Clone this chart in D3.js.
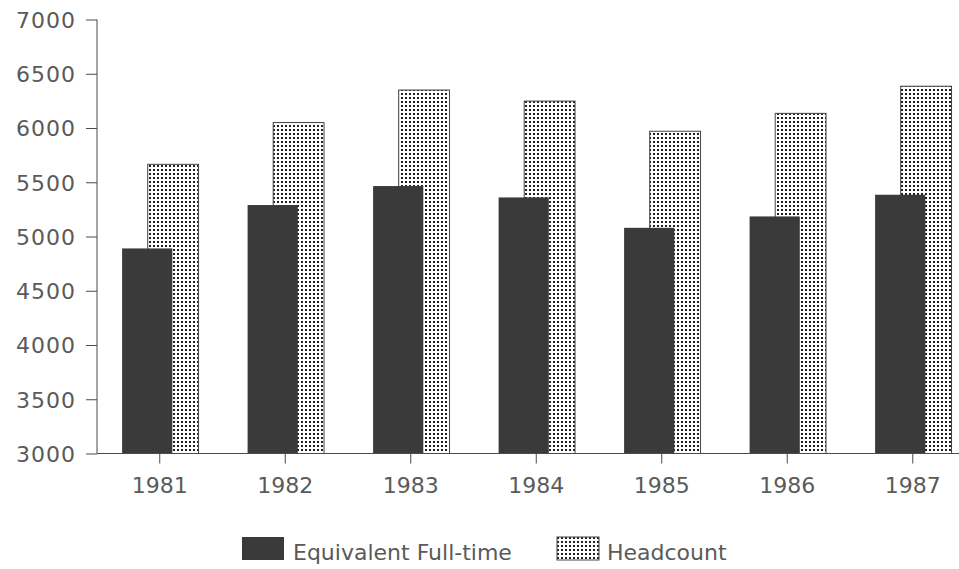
<!DOCTYPE html>
<html>
<head>
<meta charset="utf-8">
<script src="https://cdn.jsdelivr.net/npm/d3@7"></script>
<style>
  html, body { margin: 0; padding: 0; background: #fff; }
  svg { display: block; }
  text { font-family: "DejaVu Sans", sans-serif; fill: #5a5a5a; }
</style>
</head>
<body>
<svg id="chart" width="959" height="569"></svg>
<script>
const years = ["1981", "1982", "1983", "1984", "1985", "1986", "1987"];
const fullTime = [4890, 5290, 5465, 5360, 5080, 5185, 5385];
const headcount = [5665, 6050, 6350, 6248, 5970, 6135, 6385];
const yTicks = [3000, 3500, 4000, 4500, 5000, 5500, 6000, 6500, 7000];
const seriesNames = ["Equivalent Full-time", "Headcount"];

const svg = d3.select("#chart");
const axisColor = "#4a4a4a";
const darkFill = "#3a3a3a";

const x = d3.scaleBand().domain(years).range([97, 975.5]).paddingInner(0).paddingOuter(0);
const y = d3.scaleLinear().domain([3000, 7000]).range([453.5, 19.5]);

// dot pattern
const defs = svg.append("defs");
const pat = defs.append("pattern")
  .attr("id", "dots").attr("patternUnits", "userSpaceOnUse")
  .attr("width", 4).attr("height", 4);
pat.append("rect").attr("width", 4).attr("height", 4).attr("fill", "#fff");
pat.append("rect").attr("x", 1).attr("y", 1).attr("width", 2).attr("height", 2).attr("fill", "#222");

const bw = x.bandwidth();
const data = years.map((yr, i) => ({ yr, ft: fullTime[i], hc: headcount[i] }));

// headcount bars (behind)
svg.append("g").selectAll("rect").data(data).join("rect")
  .attr("x", d => x(d.yr) + bw * 0.40 + 0.5)
  .attr("width", bw * 0.405)
  .attr("y", d => y(d.hc))
  .attr("height", d => y(3000) - y(d.hc))
  .attr("fill", "url(#dots)")
  .attr("stroke", "#444").attr("stroke-width", 1);

// full-time bars (front)
svg.append("g").selectAll("rect").data(data).join("rect")
  .attr("x", d => x(d.yr) + bw * 0.20)
  .attr("width", bw * 0.40)
  .attr("y", d => y(d.ft))
  .attr("height", d => y(3000) - y(d.ft))
  .attr("fill", darkFill);

// Y axis
const yAxis = svg.append("g").attr("transform", "translate(97,0)")
  .call(d3.axisLeft(y).tickValues(yTicks).tickSize(11).tickPadding(10).tickFormat(d3.format("d")));
yAxis.select(".domain").attr("stroke", axisColor).attr("d", `M0,${y(7000)}V${y(3000)}`);
yAxis.selectAll(".tick line").attr("stroke", axisColor);
yAxis.selectAll(".tick text")
  .style("font-family", "DejaVu Sans, sans-serif")
  .style("font-size", "22px").style("letter-spacing", "1px")
  .attr("fill", "#5a5a5a").attr("dy", "0.36em");

// X axis
const xAxis = svg.append("g").attr("transform", `translate(0,${y(3000)})`)
  .call(d3.axisBottom(x).tickSize(10).tickPadding(14));
xAxis.select(".domain").attr("stroke", axisColor).attr("d", "M97,0H959");
xAxis.selectAll(".tick line").attr("stroke", axisColor);
xAxis.selectAll(".tick text")
  .style("font-family", "DejaVu Sans, sans-serif")
  .style("font-size", "22px")
  .attr("fill", "#5a5a5a");

// Legend
const legend = svg.append("g");
const legendItems = [
  { name: seriesNames[0], sx: 242, tx: 293, fill: darkFill, stroke: "none" },
  { name: seriesNames[1], sx: 557, tx: 607, fill: "url(#dots)", stroke: "#444" }
];
legendItems.forEach(it => {
  legend.append("rect").attr("x", it.sx).attr("y", 537).attr("width", 42).attr("height", 23)
    .attr("fill", it.fill).attr("stroke", it.stroke);
  legend.append("text").attr("x", it.tx).attr("y", 560)
    .style("font-size", "22px").text(it.name);
});
</script>
</body>
</html>
